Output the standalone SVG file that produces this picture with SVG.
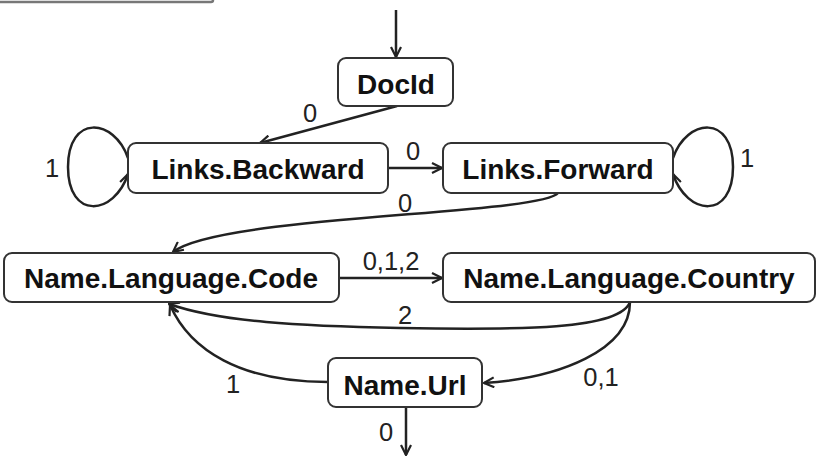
<svg xmlns="http://www.w3.org/2000/svg" width="817" height="462" viewBox="0 0 817 462">
<defs>
<style>
.node rect{fill:#fff;stroke:#333;stroke-width:2;}
.node text{font-family:"Liberation Sans",Arial,sans-serif;font-weight:bold;font-size:28px;fill:#111;text-anchor:middle;}
.edge{fill:none;stroke:#222;stroke-width:2.5;marker-end:url(#arr);}
.lbl{font-family:"Liberation Sans",Arial,sans-serif;font-size:25.5px;fill:#222;text-anchor:middle;}
</style>
<marker id="arr" viewBox="0 0 12 12" refX="11" refY="6" markerWidth="12" markerHeight="12" markerUnits="userSpaceOnUse" orient="auto">
<path d="M1,1 L11,6 L1,11" fill="none" stroke="#222" stroke-width="2.2"/>
</marker>
</defs>
<rect x="-10" y="-40" width="223" height="42" fill="#fff" stroke="#777" stroke-width="2.5" rx="2"/>
<g id="connectors">
<path class="edge" d="M396,10 L396,57"/>
<path class="edge" d="M397,106 L260,143"/>
<path class="edge" d="M128,158 C114,118 68,114 68,167 C68,220 114,216 128,174"/>
<path class="edge" d="M388,168 L442,168"/>
<path class="edge" d="M673,158 C687,118 733,114 733,167 C733,220 687,216 673,174"/>
<path class="edge" d="M558,193 C540,215 220,215 173,252"/>
<path class="edge" d="M339,278 L442,278"/>
<path class="edge" d="M630,302 C620,330 520,330 400,328 C300,326 220,322 169,304"/>
<path class="edge" d="M630,302 C630,350 560,378 484,383"/>
<path class="edge" d="M328,382 C240,382 190,350 170,305"/>
<path class="edge" d="M406,407 L406,455"/>
<text class="lbl" x="310" y="122">0</text>
<text class="lbl" x="52" y="177">1</text>
<text class="lbl" x="413" y="160">0</text>
<text class="lbl" x="747" y="167">1</text>
<text class="lbl" x="405" y="212">0</text>
<text class="lbl" x="391" y="270">0,1,2</text>
<text class="lbl" x="405" y="324">2</text>
<text class="lbl" x="233" y="393">1</text>
<text class="lbl" x="601" y="386">0,1</text>
<text class="lbl" x="386" y="441">0</text>
</g>
<g id="DocId" class="node"><rect x="338" y="58" width="115" height="48" rx="8"/><text x="396" y="94">DocId</text></g>
<g id="LinksBackward" class="node"><rect x="128" y="143" width="260" height="50" rx="8"/><text x="258" y="179">Links.Backward</text></g>
<g id="LinksForward" class="node"><rect x="443" y="143" width="230" height="50" rx="8"/><text x="558" y="179">Links.Forward</text></g>
<g id="NameLanguageCode" class="node"><rect x="4" y="253" width="335" height="49" rx="8"/><text x="171" y="288">Name.Language.Code</text></g>
<g id="NameLanguageCountry" class="node"><rect x="443" y="253" width="372" height="49" rx="8"/><text x="629" y="288">Name.Language.Country</text></g>
<g id="NameUrl" class="node"><rect x="328" y="358" width="154" height="49" rx="8"/><text x="405" y="395">Name.Url</text></g>
</svg>
